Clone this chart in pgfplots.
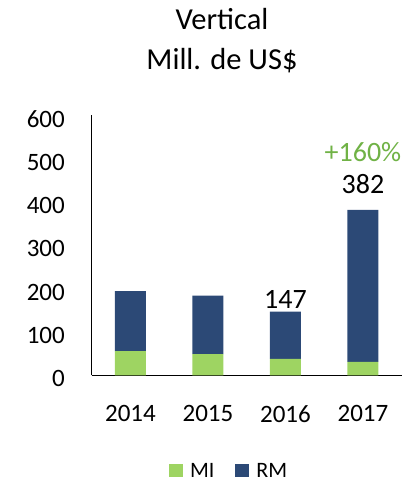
\documentclass[border=0pt]{standalone}
\usepackage{pgfplots}
\pgfplotsset{compat=1.18}
\usepackage{fontspec}
\setmainfont{Carlito}
\definecolor{migreen}{RGB}{158,212,98}
\definecolor{rmblue}{RGB}{44,73,118}
\definecolor{txtgreen}{RGB}{112,178,70}
\begin{document}
\begin{tikzpicture}[x=1pt,y=1pt]
\useasboundingbox (0,0) rectangle (413,490);
\node[anchor=base,font=\fontsize{30.5}{33}\selectfont] at (222,460) {Vertical};
\node[anchor=base,font=\fontsize{30.5}{33}\selectfont] at (222,420.5) {Mill. de US\$};
\begin{axis}[
  at={(91.7pt,114.7pt)}, anchor=south west,
  scale only axis, width=310pt, height=260pt,
  ybar stacked, bar width=31pt,
  xmin=-0.5, xmax=3.5, ymin=0, ymax=600,
  enlargelimits=false,
  axis x line=bottom, axis y line=left,
  axis line style={-, black, line width=0.9pt},
  xtick={0,1,2,3}, xticklabels={2014,2015,2016,2017},
  ytick={0,100,200,300,400,500,600},
  major tick length=0pt,
  /pgf/number format/assume math mode=true,
  /pgf/number format/1000 sep={},
  ticklabel style={font=\fontsize{25}{28}\selectfont, inner sep=0pt},
  yticklabel style={anchor=east, xshift=-26.7pt, yshift=-3.5pt},
  xticklabel style={anchor=north, yshift=-30pt},
  legend style={draw=none, fill=none, at={(0.44,-0.366)}, anchor=center,
    legend columns=2, font=\fontsize{22}{24}\selectfont,
    /tikz/every even column/.append style={column sep=21pt},
    nodes={inner sep=0pt, text depth=0pt}},
  legend image code/.code={\fill[#1] (0pt,-6.5pt) rectangle (14pt,6.5pt);},
]
\addplot[fill=migreen, draw=none] coordinates {(0,56) (1,49) (2,38) (3,31)};
\addlegendentry{\hspace{7pt}MI}
\addplot[fill=rmblue, draw=none] coordinates {(0,138) (1,135) (2,109) (3,351)};
\addlegendentry{\hspace{7pt}RM}
\node[anchor=base, font=\fontsize{28}{30}\selectfont, yshift=3pt] at (axis cs:2,147) {147};
\node[anchor=base, font=\fontsize{28}{30}\selectfont, yshift=16pt] at (axis cs:3,382) {382};
\node[anchor=base, font=\fontsize{28}{30}\selectfont, text=txtgreen, yshift=48pt] at (axis cs:3,382) {+160\%};
\end{axis}
\end{tikzpicture}
\end{document}
